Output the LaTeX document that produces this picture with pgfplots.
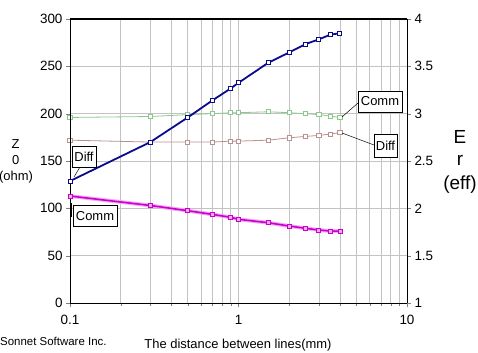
\documentclass[border=0pt]{standalone}
\usepackage{fontspec}
\setmainfont{Liberation Sans}
\usepackage{pgfplots}
\usepackage{pgfplotstable}
\pgfplotsset{compat=1.18}
\definecolor{navy}{RGB}{10,10,140}
\definecolor{mag}{RGB}{204,0,204}
\definecolor{mglow}{RGB}{240,170,240}
\definecolor{lgreen}{RGB}{140,200,140}
\definecolor{lbrown}{RGB}{185,145,145}
\definecolor{gridg}{RGB}{195,195,195}

\pgfplotstableread{
d    zdiff zcomm
0.1  128.8 113.0
0.3  170.0 103.0
0.5  196.0 97.5
0.7  214.0 93.6
0.9  226.7 90.5
1.0  232.6 88.4
1.5  253.7 84.8
2.0  264.7 81.3
2.5  273.5 78.9
3.0  278.5 77.1
3.5  283.4 76.0
4.0  285.0 76.0
}\zdata

\pgfplotstableread{
d    ecomm ediff
0.1  2.96  2.72
0.3  2.97  2.70
0.5  2.99  2.70
0.7  3.00  2.70
0.9  3.01  2.71
1.0  3.01  2.71
1.5  3.02  2.72
2.0  3.01  2.745
2.5  3.00  2.76
3.0  2.99  2.77
3.5  2.975 2.785
4.0  2.96  2.80
}\edata

\begin{document}
\begin{tikzpicture}
% right axis (Er) with grid
\begin{axis}[
    scale only axis, width=337bp, height=284bp,
    at={(0,0)}, anchor=south west,
    xmode=log, xmin=0.1, xmax=10,
    ymin=1, ymax=4, ytick={1,1.5,2,2.5,3,3.5,4},
    yticklabels={1,1.5,2,2.5,3,3.5,4},
    axis y line*=right, axis x line*=bottom,
    xtick={0.1,1,10}, xticklabels={0.1,1,10},
    tick label style={font=\fontsize{13.5}{15}\selectfont},
    xticklabel style={yshift=-5bp},
    tick align=outside,
    major tick length=4bp,
    axis line style={black, line width=0.8pt},
    grid=both, major grid style={gridg, line width=0.7pt}, minor grid style={gridg, line width=0.7pt},
]
\addplot[lgreen, line width=0.8pt, mark=square*, mark size=2.1bp, mark options={fill=white, draw=lgreen}] table[x=d, y=ecomm] {\edata};
\addplot[lbrown, line width=0.8pt, mark=square*, mark size=2.1bp, mark options={fill=white, draw=lbrown}] table[x=d, y=ediff] {\edata};
\end{axis}
% left axis (Z)
\begin{axis}[
    scale only axis, width=337bp, height=284bp,
    at={(0,0)}, anchor=south west,
    xmode=log, xmin=0.1, xmax=10,
    ymin=0, ymax=300, ytick={0,50,100,150,200,250,300},
    yticklabels={0,50,100,150,200,250,300},
    axis y line*=left, axis x line*=bottom,
    xtick=\empty,
    tick label style={font=\fontsize{13.5}{15}\selectfont},
    tick align=outside,
    major tick length=4bp,
    axis line style={black, line width=0.8pt},
]
\addplot[mglow, line width=3.8pt, forget plot] table[x=d, y=zcomm] {\zdata};
\addplot[mag, line width=1.6pt, mark=square*, mark size=2bp, mark options={fill=mglow, draw=mag, line width=0.8pt}] table[x=d, y=zcomm] {\zdata};
\addplot[navy, line width=1.8pt, mark=square*, mark size=2bp, mark options={fill=white, draw=navy, line width=0.9pt}] table[x=d, y=zdiff] {\zdata};
\draw[black, line width=2bp] (rel axis cs:0,1) -- (rel axis cs:1,1);
\end{axis}
\begin{scope}[x=1bp, y=1bp, font=\fontsize{13}{15}\selectfont]
% left ylabel
\node at (-54.3,159.3) {Z};
\node at (-54.3,143) {0};
\node at (-54,126) {(ohm)};
% right ylabel
\node[font=\fontsize{19}{21}\selectfont] at (390,166) {E};
\node[font=\fontsize{19}{21}\selectfont] at (390,143) {r};
\node[font=\fontsize{19}{21}\selectfont] at (390,118) {(eff)};
% x label and credit
\node at (168,-42) {The distance between lines(mm)};
\node[anchor=west, font=\fontsize{11.5}{13}\selectfont, inner sep=0pt] at (-70,-38) {Sonnet Software Inc.};
% annotation boxes
\draw[black, line width=0.5pt] (10,136) -- (4,126);
\node[draw=black, fill=white, line width=0.7pt, inner sep=0pt, minimum width=24bp, minimum height=21bp] at (14,146.5) {Diff};
\draw[black, line width=0.8pt] (1.5,100) -- (1.5,86);
\node[draw=black, fill=white, line width=0.7pt, inner sep=0pt, minimum width=44bp, minimum height=21bp] at (25,87) {Comm};
\draw[black, line width=0.5pt] (288,200) -- (272,186);
\node[draw=black, fill=white, line width=0.7pt, inner sep=0pt, minimum width=44bp, minimum height=21bp] at (310,201.5) {Comm};
\draw[black, line width=0.5pt] (304,158) -- (272,170);
\node[draw=black, fill=white, line width=0.7pt, inner sep=0pt, minimum width=23bp, minimum height=23bp] at (315.5,157.5) {Diff};
\end{scope}
\pgfresetboundingbox
\path[use as bounding box] (-70bp,-50bp) rectangle (408bp,303bp);
\end{tikzpicture}
\end{document}
